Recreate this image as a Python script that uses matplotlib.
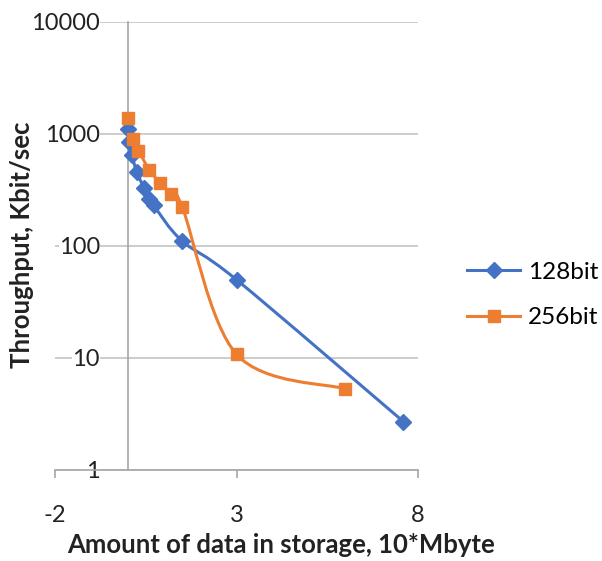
import numpy as np
import matplotlib.pyplot as plt
from matplotlib.path import Path
from matplotlib.patches import PathPatch
from matplotlib.lines import Line2D

plt.rcParams['font.family'] = ['Lato', 'DejaVu Sans']

# data
x_128 = [0.0, 0.05, 0.12, 0.25, 0.45, 0.6, 0.72, 1.5, 3.0, 7.6]
y_128 = [1100, 850, 650, 460, 330, 265, 230, 111, 50, 2.7]
x_256 = [0.0, 0.15, 0.3, 0.6, 0.9, 1.2, 1.5, 3.0, 6.0]
y_256 = [1390, 900, 710, 478, 364, 293, 225, 10.8, 5.3]

y_ticks = [1, 10, 100, 1000, 10000]
y_tick_labels = ["1", "10", "100", "1000", "10000"]
x_ticks = [-2, 3, 8]
x_tick_labels = ["-2", "3", "8"]

BLUE = "#4472C4"
ORANGE = "#ED7D31"
GRID = "#C8C8C8"
AXIS = "#A6A6A6"


def smooth_path(xs, ys):
    # Excel-like smoothed line: Catmull-Rom bezier in (x, log y) space
    p = np.column_stack([xs, np.log10(ys)])
    ext = np.vstack([p[0], p, p[-1]])
    verts = [p[0]]
    codes = [Path.MOVETO]
    for i in range(len(p) - 1):
        c1 = ext[i + 1] + (ext[i + 2] - ext[i]) / 6
        c2 = ext[i + 2] - (ext[i + 3] - ext[i + 1]) / 6
        verts += [c1, c2, ext[i + 2]]
        codes += [Path.CURVE4] * 3
    verts = np.array(verts)
    verts[:, 1] = 10 ** verts[:, 1]
    return Path(verts, codes)


fig = plt.figure(figsize=(6.02, 5.61), dpi=100)
ax = fig.add_axes([55 / 602, 91 / 561, 363 / 602, 448 / 561])

ax.set_yscale("log")
ax.set_xlim(-2, 8)
ax.set_ylim(1, 10000)

for xs, ys, color, marker, ms, label in [
    (x_128, y_128, BLUE, "D", 8.5, "128bit"),
    (x_256, y_256, ORANGE, "s", 8.5, "256bit"),
]:
    ax.add_patch(PathPatch(smooth_path(xs, ys), facecolor="none",
                           edgecolor=color, lw=2.2, zorder=2))
    ax.plot(xs, ys, linestyle="none", marker=marker, ms=ms, color=color,
            zorder=3)

ax.set_yticks(y_ticks)
ax.set_yticklabels(y_tick_labels)
ax.yaxis.set_minor_locator(plt.NullLocator())
ax.set_xticks(x_ticks)
ax.set_xticklabels(x_tick_labels)

ax.grid(axis="y", color=GRID, lw=1.3)
ax.tick_params(axis="y", length=0, pad=20, labelsize=17, colors="#222222")
ax.tick_params(axis="x", length=6, width=1.2, direction="out", color=AXIS,
               pad=19, labelsize=17, labelcolor="#222222")

for side in ["top", "right"]:
    ax.spines[side].set_visible(False)
ax.spines["left"].set_position(("data", 0))
for side in ["left", "bottom"]:
    ax.spines[side].set_color(AXIS)
    ax.spines[side].set_linewidth(1.2)

fig.text(22 / 602, 1 - 245 / 561, "Throughput, Kbit/sec", rotation=90,
         ha="center", va="center", fontsize=18.5, fontweight="bold",
         color="#222222")
fig.text(281 / 602, 1 - 545 / 561, "Amount of data in storage, 10*Mbyte",
         ha="center", va="center", fontsize=18.5, fontweight="bold",
         color="#222222")

handles = [
    Line2D([], [], color=BLUE, lw=2.2, marker="D", ms=8.5, label="128bit"),
    Line2D([], [], color=ORANGE, lw=2.2, marker="s", ms=8.5, label="256bit"),
]
fig.legend(handles=handles, loc="center left",
           bbox_to_anchor=(467 / 602, 1 - 295 / 561), frameon=False,
           fontsize=17.5, handlelength=2.2, handletextpad=0.3,
           labelspacing=1.0, borderpad=0, borderaxespad=0)

fig.canvas.draw()
for lab in ax.get_yticklabels():
    lab.set_bbox(dict(facecolor="white", edgecolor="none", pad=0))

fig.savefig("out.png", dpi=100)
